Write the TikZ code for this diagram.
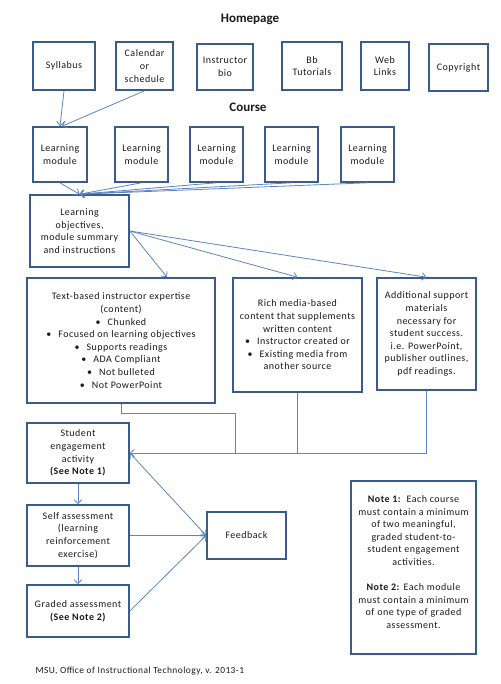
\documentclass[tikz,border=0pt]{standalone}
\usepackage{fontspec}
\setmainfont{Carlito}
\newfontfamily\bodyfont[LetterSpace=5]{Carlito}
\usetikzlibrary{arrows.meta,calc}
\definecolor{boxblue}{HTML}{385D8A}
\definecolor{lineblue}{HTML}{5B86C0}
\definecolor{txt}{HTML}{1A1A1A}
\newcommand{\bul}{\textbullet\hspace{7pt}}
\begin{document}
\begin{tikzpicture}[x=1pt,y=-1pt,
  box/.style={draw=boxblue,line width=1.6pt,fill=white,rectangle,inner sep=2pt,align=center,
    font=\bodyfont\fontsize{10}{12.6}\selectfont,text=txt},
  ttl/.style={font=\fontsize{13}{15}\selectfont\bfseries,text=txt},
  plain/.style={font=\bodyfont\fontsize{10}{12.6}\selectfont,text=txt,align=center},
  conn/.style={draw=lineblue,line width=0.8pt,-{Straight Barb[length=4pt,width=7.5pt]}},
  dconn/.style={draw=lineblue,line width=0.8pt,{Straight Barb[length=4pt,width=7.5pt]}-{Straight Barb[length=4pt,width=7.5pt]}},
  wire/.style={draw=lineblue,line width=0.8pt}]
\useasboundingbox (0,0) rectangle (500,684);
\fill[white] (0,0) rectangle (500,684);

\node[ttl] (home) at (250,19) {Homepage};
\node[ttl] (course) at (248,107) {Course};

\node[box,minimum width=62,minimum height=48] (syl) at (64,66) {Syllabus};
\node[box,minimum width=57,minimum height=48] (cal) at (144.5,66) {Calendar\\or\\schedule};
\node[box,minimum width=56,minimum height=46] (bio) at (225,67) {Instructor\\bio};
\node[box,minimum width=60,minimum height=48] (bb) at (312,66) {Bb\\Tutorials};
\node[box,minimum width=48,minimum height=48] (web) at (385,66) {Web\\Links};
\node[box,minimum width=59,minimum height=47] (copy) at (458.5,67.5) {Copyright};

\node[box,minimum width=54,minimum height=55] (lm1) at (60,154.5) {Learning\\module};
\node[box,minimum width=53,minimum height=55] (lm2) at (141.5,154.5) {Learning\\module};
\node[box,minimum width=53,minimum height=55] (lm3) at (216.5,154.5) {Learning\\module};
\node[box,minimum width=53,minimum height=55] (lm4) at (291.5,154.5) {Learning\\module};
\node[box,minimum width=53,minimum height=55] (lm5) at (367.5,154.5) {Learning\\module};

\node[box,minimum width=99,minimum height=72] (lo) at (79.5,231) {Learning\\objectives,\\module summary\\and instructions};

\node[box,minimum width=188,minimum height=125] (tb) at (121,340.5) {Text-based instructor expertise\\(content)\\\bul Chunked\\\bul Focused on learning objectives\\\bul Supports readings\\\bul ADA Compliant\\\bul Not bulleted\\\bul Not PowerPoint};
\node[box,minimum width=129,minimum height=114] (rich) at (297.5,335) {Rich media-based\\content that supplements\\written content\\\bul Instructor created or\\\bul Existing media from\\another source};
\node[box,minimum width=99,minimum height=112] (add) at (426.5,334) {Additional support\\materials\\necessary for\\student success.\\i.e. PowerPoint,\\publisher outlines,\\pdf readings.};

\node[box,minimum width=102,minimum height=60] (se) at (78,453) {Student\\engagement\\activity\\\textbf{(See Note 1)}};
\node[box,minimum width=102,minimum height=61] (sa) at (78,535.5) {Self assessment\\(learning\\reinforcement\\exercise)};
\node[box,minimum width=102,minimum height=52] (ga) at (78,611) {Graded assessment\\\textbf{(See Note 2)}};
\node[box,minimum width=79,minimum height=47] (fb) at (246.5,535.5) {Feedback};

\node[box,minimum width=125,minimum height=173] (note) at (413.5,567.5) {};
\node[plain] (notetext) at (413.5,562) {\textbf{Note 1:}\, Each course\\must contain a minimum\\of two meaningful,\\graded student-to-\\student engagement\\activities.\\[12.6pt]\textbf{Note 2:} Each module\\must contain a minimum\\of one type of graded\\assessment.};

\node[font=\bodyfont\fontsize{9.4}{10}\selectfont,text=txt,anchor=west] (foot) at (32,671) {MSU, Office of Instructional Technology, v. 2013-1};

% connectors
\draw[conn] (syl.south) -- (lm1.north);
\draw[conn] (cal.south) -- ($(lm1.north)+(2,0)$);
\foreach \m in {lm1,lm2,lm3,lm4,lm5}{\draw[conn] (\m.south) -- (lo.north);}
\draw[conn] (lo.east) -- ($(tb.north)+(46,0)$);
\draw[conn] (lo.east) -- (rich.north);
\draw[conn] (lo.east) -- (add.north);

\coordinate (j1) at (235,453);
\draw[wire] (tb.south) -- ++(0,10) -| (j1);
\draw[wire] (rich.south) -- (rich.south |- se.east);
\draw[conn] (add.south) |- (se.east);

\draw[conn] (se.south) -- (sa.north);
\draw[conn] (sa.south) -- (ga.north);
\draw[conn] (sa.east) -- (fb.west);
\draw[dconn] (se.east) -- (fb.west);
\draw[conn] (ga.east) -- (fb.west);
\end{tikzpicture}
\end{document}
